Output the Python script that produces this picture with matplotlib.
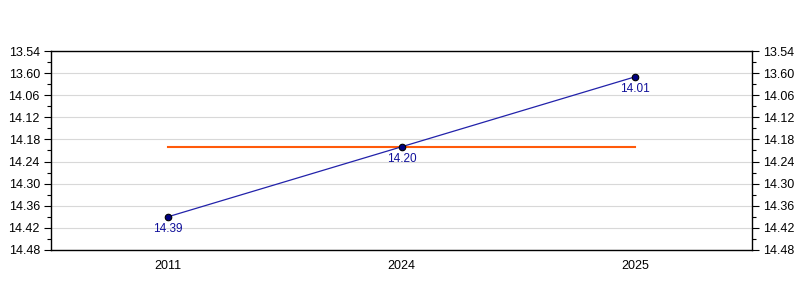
import matplotlib
matplotlib.use('Agg')
import matplotlib.pyplot as plt
from matplotlib.ticker import FixedLocator, FuncFormatter

# times as min.sec
years = ['2011', '2024', '2025']
times = ['14.39', '14.20', '14.01']
avg_time = '14.20'
tick_start, tick_end, tick_step = 834, 888, 6   # seconds: 13.54 .. 14.48

plt.rcParams['font.family'] = ['Liberation Sans', 'DejaVu Sans']


def to_sec(t):
    m, s = t.split('.')
    return int(m) * 60 + int(s)


def fmt(v, pos=None):
    v = int(round(v))
    m, s = divmod(v, 60)
    if s == 0:
        m, s = m - 1, 60
    return f'{m}.{s:02d}'


secs = [to_sec(t) for t in times]
xs = list(range(len(years)))

fig = plt.figure(figsize=(8, 3), dpi=100)
ax = fig.add_axes([0.06375, 0.1667, 0.87625, 0.6633])

ax.plot([xs[0], xs[-1]], [to_sec(avg_time)] * 2, color='#ff5a0a', lw=1.5, zorder=2)
ax.plot(xs, secs, color='#2222aa', lw=0.9, zorder=3)
ax.scatter(xs, secs, s=22, color='#000080', edgecolor='black', linewidth=0.8, zorder=4)
for x, y, t in zip(xs, secs, times):
    ax.annotate(t, (x, y), xytext=(0, -4.5), textcoords='offset points',
                ha='center', va='top', fontsize=8.5, color='#10109a')

ax.set_xlim(-0.5, len(years) - 0.5)
ax.set_ylim(tick_end, tick_start)
majors = list(range(tick_start, tick_end + 1, tick_step))
ax.yaxis.set_major_locator(FixedLocator(majors))
ax.yaxis.set_minor_locator(FixedLocator([m + tick_step / 2 for m in majors[:-1]]))
ax.yaxis.set_major_formatter(FuncFormatter(fmt))
ax.set_xticks(xs)
ax.set_xticklabels(years)

ax.tick_params(axis='x', length=0, labelsize=9, pad=7)
ax.tick_params(axis='y', which='major', length=5, labelsize=9, left=True, right=True,
               labelleft=True, labelright=True, direction='out', width=0.8, pad=3)
ax.tick_params(axis='y', which='minor', length=3, left=True, right=True, width=0.8)

ax.grid(axis='y', color='#d8d8d8', lw=0.8)
ax.set_axisbelow(True)
for sp in ax.spines.values():
    sp.set_linewidth(1)
    sp.set_color('black')

fig.savefig('out.png', dpi=100)
